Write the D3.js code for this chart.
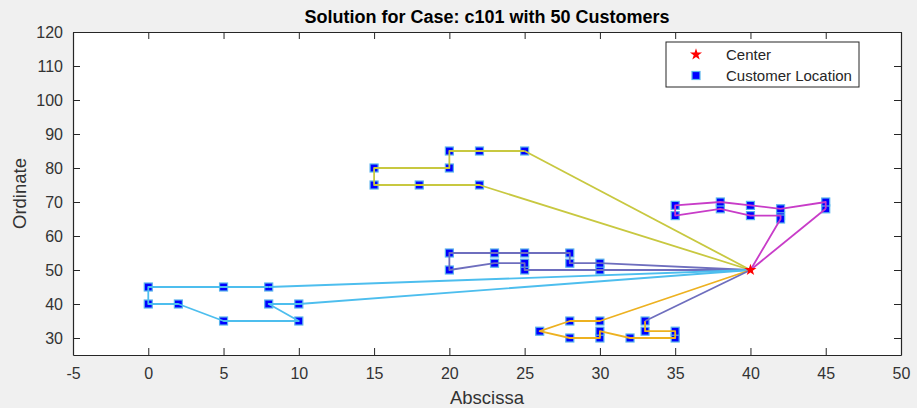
<!DOCTYPE html>
<html>
<head>
<meta charset="utf-8">
<script src="https://cdn.jsdelivr.net/npm/d3@7"></script>
<style>
  body { margin: 0; background: #f0f0f0; }
  svg { display: block; font-family: "Liberation Sans", Arial, sans-serif; }
  .axis path, .axis line { stroke: #262626; }
  .axis text { fill: #333; font-size: 16px; }
</style>
</head>
<body>
<svg width="917" height="408"></svg>
<script>
// c101, first 50 customers (index 1..50), depot separate
const depot = [40, 50];
const custX = [45, 45, 42, 42, 42, 40, 40, 38, 38, 35, 35, 25, 22, 22, 20, 20, 18, 15, 15, 30,
               30, 28, 28, 25, 25, 25, 23, 23, 20, 20, 10, 10, 8, 8, 5, 5, 2, 0, 0, 35,
               35, 33, 33, 32, 30, 30, 30, 28, 28, 26];
const custY = [68, 70, 66, 68, 65, 69, 66, 68, 70, 66, 69, 85, 75, 85, 80, 85, 75, 75, 80, 50,
               52, 52, 55, 50, 52, 55, 52, 55, 50, 55, 35, 40, 40, 45, 35, 45, 40, 40, 45, 30,
               32, 32, 35, 30, 30, 32, 35, 30, 35, 32];
const routes = [
  [5, 3, 7, 8, 10, 11, 9, 6, 4, 2, 1],
  [13, 17, 18, 19, 15, 16, 14, 12],
  [20, 24, 25, 27, 29, 30, 28, 26, 23, 22, 21],
  [32, 33, 31, 35, 37, 38, 39, 36, 34],
  [47, 49, 50, 48, 45, 46, 44, 40, 41, 42, 43]
];
const routeColors  = ['#c83cc8', '#c8c840', '#6e6ebe', '#4dbeee', '#edb120'];
// the return leg of the last route came out in the 3rd route's colour
const returnColors = ['#c83cc8', '#c8c840', '#6e6ebe', '#4dbeee', '#6e6ebe'];
const xTicks = [-5, 0, 5, 10, 15, 20, 25, 30, 35, 40, 45, 50];
const yTicks = [30, 40, 50, 60, 70, 80, 90, 100, 110, 120];

const svg = d3.select('svg');
const mLeft = 73, mRight = 901, mTop = 32, mBottom = 355;
const W = mRight - mLeft, H = mBottom - mTop;

var x = d3.scaleLinear().domain([-5, 50]).range([0, W]);
var y = d3.scaleLinear().domain([25, 120]).range([H, 0]);

svg.append('rect').attr('x', mLeft).attr('y', mTop).attr('width', W).attr('height', H).attr('fill', '#fff');

var g = svg.append('g').attr('transform', `translate(${mLeft},${mTop})`);

// axes, ticks inside like matlab (plain hyphen for negatives)
var plain = d3.format('d');
var fmt = d => plain(d).replace('\u2212', '-');
g.append('g').attr('class', 'axis').attr('transform', `translate(0,${H})`)
  .call(d3.axisBottom(x).tickValues(xTicks).tickSizeInner(-7).tickSizeOuter(0).tickPadding(13).tickFormat(fmt));
g.append('g').attr('class', 'axis')
  .call(d3.axisLeft(y).tickValues(yTicks).tickSizeInner(-7).tickSizeOuter(0).tickPadding(10).tickFormat(fmt));
g.append('g').attr('class', 'axis')
  .call(d3.axisTop(x).tickValues(xTicks).tickSizeInner(-7).tickSizeOuter(0).tickFormat(''));
g.append('g').attr('class', 'axis').attr('transform', `translate(${W},0)`)
  .call(d3.axisRight(y).tickValues(yTicks).tickSizeInner(-7).tickSizeOuter(0).tickFormat(''));
g.selectAll('.axis path').attr('stroke-width', 1.2);

// customers
var cust = custX.map((cx, i) => ({ id: i + 1, x: cx, y: custY[i] }));
g.selectAll('rect.cust').data(cust).enter().append('rect').attr('class', 'cust')
  .attr('x', d => x(d.x) - 4).attr('y', d => y(d.y) - 4)
  .attr('width', 8).attr('height', 8)
  .attr('fill', '#0000ff').attr('stroke', '#5ab4ec').attr('stroke-width', 1.2);

// routes
var line = d3.line().x(d => x(d[0])).y(d => y(d[1]));
routes.forEach((rt, k) => {
  var pts = [depot].concat(rt.map(c => [custX[c - 1], custY[c - 1]]));
  g.append('path').attr('d', line(pts)).attr('fill', 'none')
    .attr('stroke', routeColors[k]).attr('stroke-width', 1.8).attr('stroke-linejoin', 'round');
  g.append('path').attr('d', line([pts[pts.length - 1], depot])).attr('fill', 'none')
    .attr('stroke', returnColors[k]).attr('stroke-width', 1.8);
});

// depot
var star = d3.symbol().type(d3.symbolStar).size(45);
g.append('path').attr('d', star()).attr('transform', `translate(${x(depot[0])},${y(depot[1])})`)
  .attr('fill', '#ff0000');

// legend
var lg = svg.append('g').attr('transform', 'translate(666,42)');
lg.append('rect').attr('width', 193).attr('height', 45).attr('fill', '#fff').attr('stroke', '#262626').attr('stroke-width', 1);
lg.append('path').attr('d', star()).attr('transform', 'translate(30,12.5)').attr('fill', '#ff0000');
lg.append('rect').attr('x', 26).attr('y', 29.5).attr('width', 8).attr('height', 8)
  .attr('fill', '#0000ff').attr('stroke', '#5ab4ec').attr('stroke-width', 1.2);
lg.append('text').attr('x', 60).attr('y', 18).attr('font-size', 15).attr('fill', '#262626').text('Center');
lg.append('text').attr('x', 60).attr('y', 39).attr('font-size', 15).attr('fill', '#262626').text('Customer Location');

// title and labels
svg.append('text').attr('x', mLeft + W / 2).attr('y', 23).attr('text-anchor', 'middle')
  .attr('font-size', 18).attr('font-weight', 'bold').attr('fill', '#000')
  .text('Solution for Case: c101 with 50 Customers');
svg.append('text').attr('x', mLeft + W / 2).attr('y', 404).attr('text-anchor', 'middle')
  .attr('font-size', 18.5).attr('fill', '#333').text('Abscissa');
svg.append('text').attr('transform', `translate(26,${mTop + H / 2}) rotate(-90)`).attr('text-anchor', 'middle')
  .attr('font-size', 18.5).attr('fill', '#333').text('Ordinate');
</script>
</body>
</html>
